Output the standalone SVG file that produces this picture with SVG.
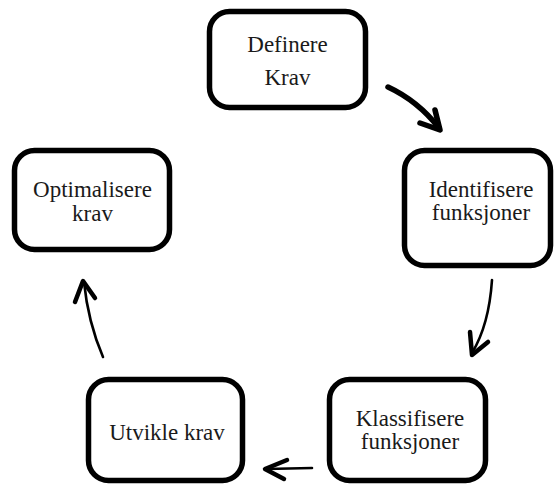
<svg xmlns="http://www.w3.org/2000/svg" width="554" height="484" viewBox="0 0 554 484">
  <style>
    .box { fill: #ffffff; stroke: #000000; stroke-width: 5.5; }
    .label { font-family: "Liberation Serif", "Times New Roman", serif; font-size: 23px; fill: #1a1a1a; text-anchor: middle; }
    .link { fill: none; stroke: #000000; stroke-linecap: round; stroke-linejoin: round; }
    .thick { stroke-width: 5.5; }
    .thin { stroke-width: 2.6; }
    .head { stroke-width: 4.5; }
  </style>
  <rect width="554" height="484" fill="#ffffff"/>

  <g id="node-definere">
    <rect class="box" x="209.5" y="11.5" width="156" height="96" rx="20"/>
    <text class="label" x="287.5" y="52">Definere</text>
    <text class="label" x="287.5" y="85">Krav</text>
  </g>

  <g id="node-identifisere">
    <rect class="box" x="404.5" y="150.5" width="146" height="115" rx="20"/>
    <text class="label" x="481" y="197">Identifisere</text>
    <text class="label" x="481" y="220">funksjoner</text>
  </g>

  <g id="node-klassifisere">
    <rect class="box" x="329.5" y="379.5" width="156" height="101" rx="20"/>
    <text class="label" x="410" y="426">Klassifisere</text>
    <text class="label" x="410" y="449">funksjoner</text>
  </g>

  <g id="node-utvikle">
    <rect class="box" x="88.5" y="379.5" width="154" height="101" rx="20"/>
    <text class="label" x="167" y="440">Utvikle krav</text>
  </g>

  <g id="node-optimalisere">
    <rect class="box" x="14.5" y="150.5" width="155" height="99" rx="20"/>
    <text class="label" x="92.5" y="197">Optimalisere</text>
    <text class="label" x="92.5" y="221">krav</text>
  </g>

  <g id="connectors">
    <!-- Definere -> Identifisere -->
    <path class="link thick" d="M388,87 Q418,101 439,128"/>
    <path class="link thick" d="M435,110 L440,130 L420,123"/>
    <!-- Identifisere -> Klassifisere -->
    <path class="link thin" d="M492,280 Q489,325 472,353"/>
    <path class="link head" d="M470,332 L472,355 L488,342"/>
    <!-- Klassifisere -> Utvikle -->
    <path class="link thin" d="M312,468 L266,469"/>
    <path class="link head" d="M287,460 L265,469 L284,479"/>
    <!-- Utvikle -> Optimalisere -->
    <path class="link thin" d="M103,357 Q88,322 84,282"/>
    <path class="link head" d="M75,302 L83,281 L95,298"/>
  </g>
</svg>
